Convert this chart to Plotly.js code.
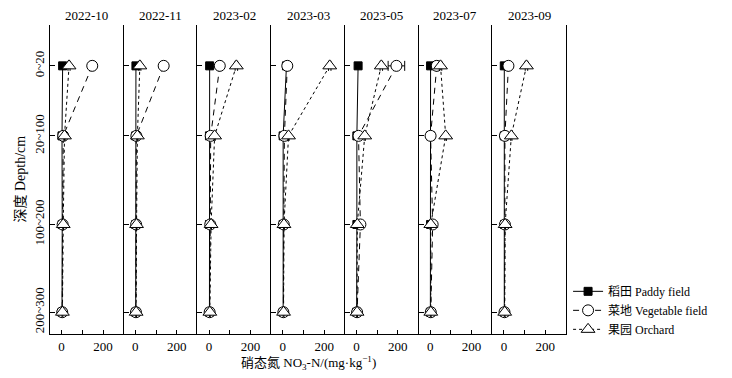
<!DOCTYPE html>
<html>
<head>
<meta charset="utf-8">
<script src="https://cdn.plot.ly/plotly-3.0.1.min.js"></script>
<style>html,body{margin:0;padding:0;background:#fff;}#chart{width:732px;height:378px;}</style>
</head>
<body>
<div id="chart"></div>
<script>
// ---- data ----
var months = ['2022-10','2022-11','2023-02','2023-03','2023-05','2023-07','2023-09'];
var depthLabels = ['0~20','20~100','100~200','200~300'];
var depthAxisPos = [1, 1.79, 2.79, 3.78];
var seriesNames = ['稻田 Paddy field','菜地 Vegetable field','果园 Orchard'];
// NO3-N (mg/kg), one row per month, values by depth layer
var paddy = [
  [5, 2, 3, 2],
  [3, 2, 2, 2],
  [3, 2, 2, 2],
  [18, 2, 2, 2],
  [8, 2, 2, 1],
  [2, 2, 2, 1],
  [2, 2, 3, 2]
];
var vegetable = [
  [148, 8, 5, 3],
  [137, 5, 4, 3],
  [52, 8, 6, 3],
  [22, 8, 5, 3],
  [193, 10, 19, 3],
  [32, 2, 12, 3],
  [22, 5, 5, 3]
];
var vegetableErr = [
  [10, 4, 3, 2],
  [10, 4, 3, 2],
  [10, 4, 3, 2],
  [8, 4, 3, 2],
  [40, 4, 4, 2],
  [10, 3, 3, 2],
  [10, 4, 3, 2]
];
var orchard = [
  [36, 14, 8, 4],
  [22, 10, 6, 4],
  [132, 27, 10, 4],
  [227, 28, 6, 4],
  [120, 40, 4, 3],
  [50, 75, 3, 3],
  [109, 36, 6, 4]
];
var orchardErr = [
  [5, 3, 2, 2],
  [5, 3, 2, 2],
  [6, 3, 2, 2],
  [6, 3, 2, 2],
  [6, 3, 2, 2],
  [6, 4, 2, 2],
  [6, 3, 2, 2]
];
var xTickVals = [0, 200];
var xTickText = ['0', '200'];
var xMinorTickVals = [100];

// ---- build ----
var FONT = "'Liberation Serif', 'Noto Sans CJK SC', serif";
var n = months.length;
var traces = [];
var layout = {
  width: 732, height: 378,
  margin: {l: 50, r: 166, t: 25, b: 44},
  paper_bgcolor: '#fff', plot_bgcolor: '#fff',
  font: {family: FONT, size: 13, color: '#000'},
  showlegend: true,
  legend: {
    x: 1.004, xanchor: 'left', y: 0.185, yanchor: 'top',
    font: {family: FONT, size: 12, color: '#000'},
    bgcolor: 'rgba(0,0,0,0)', tracegroupgap: 0
  },
  annotations: [],
  shapes: []
};

for (var i = 0; i < n; i++) {
  var k = i === 0 ? '' : String(i + 1);
  var xa = 'x' + k, ya = 'y' + k;
  var common = {xaxis: xa, yaxis: ya, type: 'scatter', mode: 'lines+markers', y: depthAxisPos, cliponaxis: false};
  traces.push(Object.assign({}, common, {
    x: paddy[i], name: seriesNames[0], legendgroup: 'p', showlegend: i === 0,
    line: {color: '#000', width: 1, dash: 'solid'},
    marker: {symbol: 'square', size: 8, color: '#000', line: {color: '#000', width: 1}}
  }));
  traces.push(Object.assign({}, common, {
    x: vegetable[i], name: seriesNames[1], legendgroup: 'v', showlegend: i === 0,
    line: {color: '#000', width: 1, dash: '6px,5px'},
    marker: {symbol: 'circle', size: 11, color: '#fff', line: {color: '#000', width: 1}},
    error_x: {type: 'data', array: vegetableErr[i], visible: true, color: '#000', thickness: 1, width: 5}
  }));
  traces.push(Object.assign({}, common, {
    x: orchard[i], name: seriesNames[2], legendgroup: 'o', showlegend: i === 0,
    line: {color: '#000', width: 1, dash: '3px,3px'},
    marker: {symbol: 'triangle-up', size: 12, color: '#fff', line: {color: '#000', width: 1}},
    error_x: {type: 'data', array: orchardErr[i], visible: true, color: '#000', thickness: 1, width: 5}
  }));

  var d0 = i / n, d1 = (i + 1) / n;
  layout['xaxis' + k] = {
    domain: [d0, d1], anchor: ya, range: [-56, 300],
    showline: true, linecolor: '#000', linewidth: 1,
    ticks: 'inside', ticklen: 4, tickwidth: 1, tickcolor: '#000',
    tickmode: 'array', tickvals: xTickVals, ticktext: xTickText,
    minor: {tickmode: 'array', tickvals: xMinorTickVals, ticks: 'inside', ticklen: 4, tickwidth: 1, tickcolor: '#000', showgrid: false},
    showgrid: false, zeroline: false,
    tickfont: {family: FONT, size: 13, color: '#000'}
  };
  layout['yaxis' + k] = {
    anchor: xa, range: [4.026, 0.539], autorange: false,
    showline: true, linecolor: '#000', linewidth: 1,
    mirror: i === n - 1 ? true : false,
    ticks: 'inside', ticklen: 5, tickwidth: 1, tickcolor: '#000',
    tickvals: depthAxisPos, ticktext: depthLabels,
    showticklabels: i === 0, tickangle: -90,
    showgrid: false, zeroline: false,
    tickfont: {family: FONT, size: 13, color: '#000'}
  };
  if (i > 0) layout['yaxis' + k].matches = 'y';

  layout.annotations.push({
    text: months[i], xref: 'paper', yref: 'paper',
    x: (d0 + d1) / 2, y: 1, yshift: 10, showarrow: false,
    xanchor: 'center', yanchor: 'middle',
    font: {family: FONT, size: 13, color: '#000'}
  });
}

layout.annotations.push({
  text: '硝态氮 NO<sub>3</sub>-N/(mg·kg<sup>−1</sup>)',
  xref: 'paper', yref: 'paper', x: 0.5, y: 0, yshift: -29,
  showarrow: false, xanchor: 'center', yanchor: 'middle',
  font: {family: FONT, size: 13, color: '#000'}
});
layout.annotations.push({
  text: '深度 Depth/cm',
  xref: 'paper', yref: 'paper', x: 0, xshift: -30, y: 0.5,
  showarrow: false, xanchor: 'center', yanchor: 'middle', textangle: -90,
  font: {family: FONT, size: 14, color: '#000'}
});

Plotly.newPlot('chart', traces, layout, {staticPlot: true, displayModeBar: false});
</script>
</body>
</html>
